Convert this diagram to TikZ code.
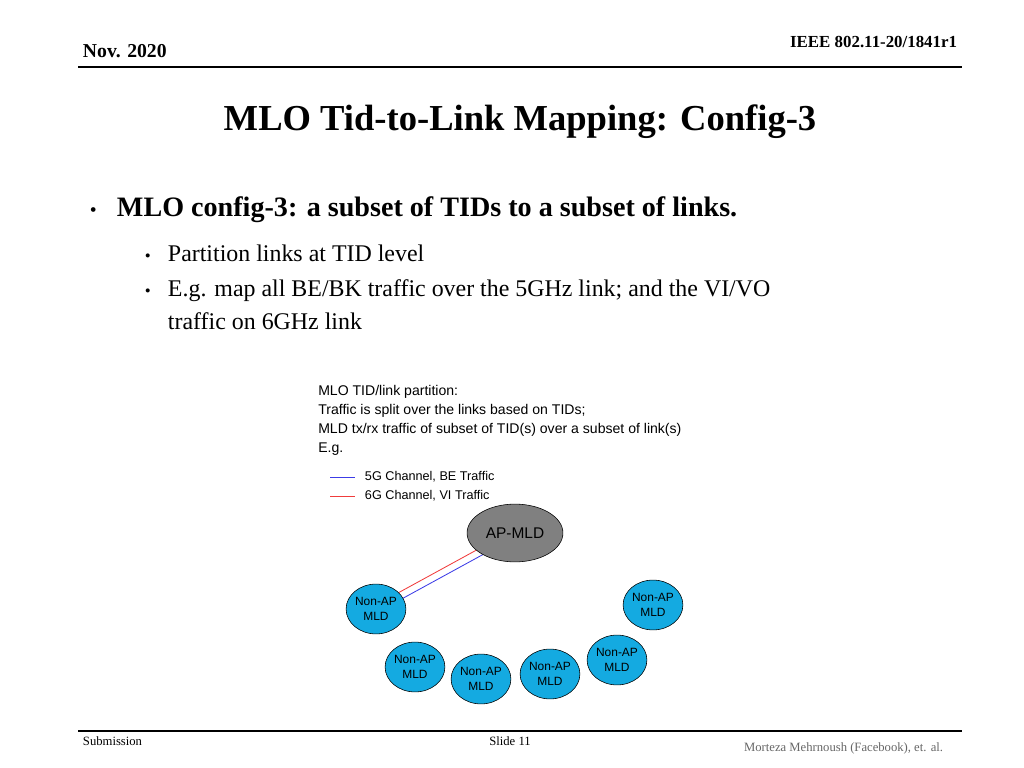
\documentclass[tikz,border=0pt]{standalone}
\usepackage{fontspec}
\setmainfont{Liberation Serif}
\newfontfamily\diagfont{Liberation Sans}
\usetikzlibrary{shapes.geometric, calc, backgrounds}
\definecolor{colAP}{RGB}{128,128,128}
\definecolor{colSTA}{RGB}{20,170,225}
\definecolor{colBlue}{RGB}{60,60,230}
\definecolor{colRed}{RGB}{240,60,60}

\newlength{\pxlen}
\setlength{\pxlen}{0.709pt}
\tikzset{
    apnode/.style={ellipse, draw=black, fill=colAP, minimum width=96\pxlen, minimum height=58\pxlen, font=\diagfont\fontsize{11}{12}\selectfont},
    stanode/.style={ellipse, draw=black, fill=colSTA, minimum width=60\pxlen, minimum height=50\pxlen, inner sep=0pt, align=center, font=\diagfont\fontsize{8.5}{11}\selectfont},
    bluelink/.style={colBlue, line width=0.6pt},
    redlink/.style={colRed, line width=0.6pt}
}

\begin{document}
\begin{tikzpicture}[x=0.025cm, y=-0.025cm]
    \useasboundingbox (0,0) rectangle (1024,768);

    % header and footer
    \node[anchor=base west, font=\bfseries\fontsize{14}{16}\selectfont] (date) at (78,58) {Nov. 2020};
    \node[anchor=base east, font=\bfseries\fontsize{12}{14}\selectfont] (docid) at (962,48) {IEEE 802.11-20/1841r1};
    \draw[line width=0.8pt] (78,67) -- (962,67);
    \draw[line width=0.8pt] (78,731) -- (962,731);
    \node[anchor=base west, font=\fontsize{9}{10}\selectfont] (sub) at (78,745) {Submission};
    \node[anchor=base, font=\fontsize{9}{10}\selectfont] (slide) at (510,745) {Slide 11};
    \node[anchor=base east, font=\fontsize{9}{10}\selectfont, text=black!60] (auth) at (948,751) {Morteza Mehrnoush (Facebook), et. al.};

    % title and bullets
    \node[font=\bfseries\fontsize{26}{30}\selectfont] (title) at (520,122) {MLO Tid-to-Link Mapping: Config-3};
    \node[anchor=base west, font=\fontsize{14}{16}\selectfont] (b1) at (85,216) {•};
    \node[anchor=base west, font=\bfseries\fontsize{20}{24}\selectfont] (t1) at (112,216) {MLO config-3: a subset of TIDs to a subset of links.};
    \node[anchor=base west, font=\fontsize{12}{14}\selectfont] (b2) at (140,261) {•};
    \node[anchor=base west, font=\fontsize{17}{20}\selectfont] (t2) at (163,261) {Partition links at TID level};
    \node[anchor=base west, font=\fontsize{12}{14}\selectfont] (b3) at (140,296) {•};
    \node[anchor=base west, font=\fontsize{17}{20}\selectfont] (t3) at (163,296) {E.g. map all BE/BK traffic over the 5GHz link; and the VI/VO};
    \node[anchor=base west, font=\fontsize{17}{20}\selectfont] (t4) at (163,329) {traffic on 6GHz link};

    % diagram text
    \node[anchor=north west, align=left, inner sep=0pt, font=\diagfont\fontsize{10}{13.5}\selectfont] (desc) at (318,385)
        {MLO TID/link partition:\\Traffic is split over the links based on TIDs;\\MLD tx/rx traffic of subset of TID(s) over a subset of link(s)\\E.g.};
    \coordinate (lb1) at (330,477); \coordinate (lb2) at (355,477);
    \coordinate (lr1) at (330,496); \coordinate (lr2) at (355,496);
    \draw[bluelink] (lb1) -- (lb2);
    \draw[redlink] (lr1) -- (lr2);
    \node[anchor=west, font=\diagfont\fontsize{9}{11}\selectfont] (leg1) at (360,477) {5G Channel, BE Traffic};
    \node[anchor=west, font=\diagfont\fontsize{9}{11}\selectfont] (leg2) at (360,496) {6G Channel, VI Traffic};

    % nodes
    \node[apnode] (ap) at (515,533) {AP-MLD};
    \node[stanode] (s1) at (376,609) {Non-AP\\MLD};
    \node[stanode] (s2) at (415,667) {Non-AP\\MLD};
    \node[stanode] (s3) at (481,679) {Non-AP\\MLD};
    \node[stanode] (s4) at (550,674) {Non-AP\\MLD};
    \node[stanode] (s5) at (617,660) {Non-AP\\MLD};
    \node[stanode] (s6) at (653,605) {Non-AP\\MLD};

    % links
    \begin{scope}[on background layer]
    \foreach \s in {s1,...,s6} {
        \draw[bluelink] ($(ap)!2.5pt!90:(\s)$) -- ($(\s)!2.5pt!-90:(ap)$);
        \draw[redlink] ($(ap)!2.5pt!-90:(\s)$) -- ($(\s)!2.5pt!90:(ap)$);
    }
    \end{scope}
\end{tikzpicture}
\end{document}
